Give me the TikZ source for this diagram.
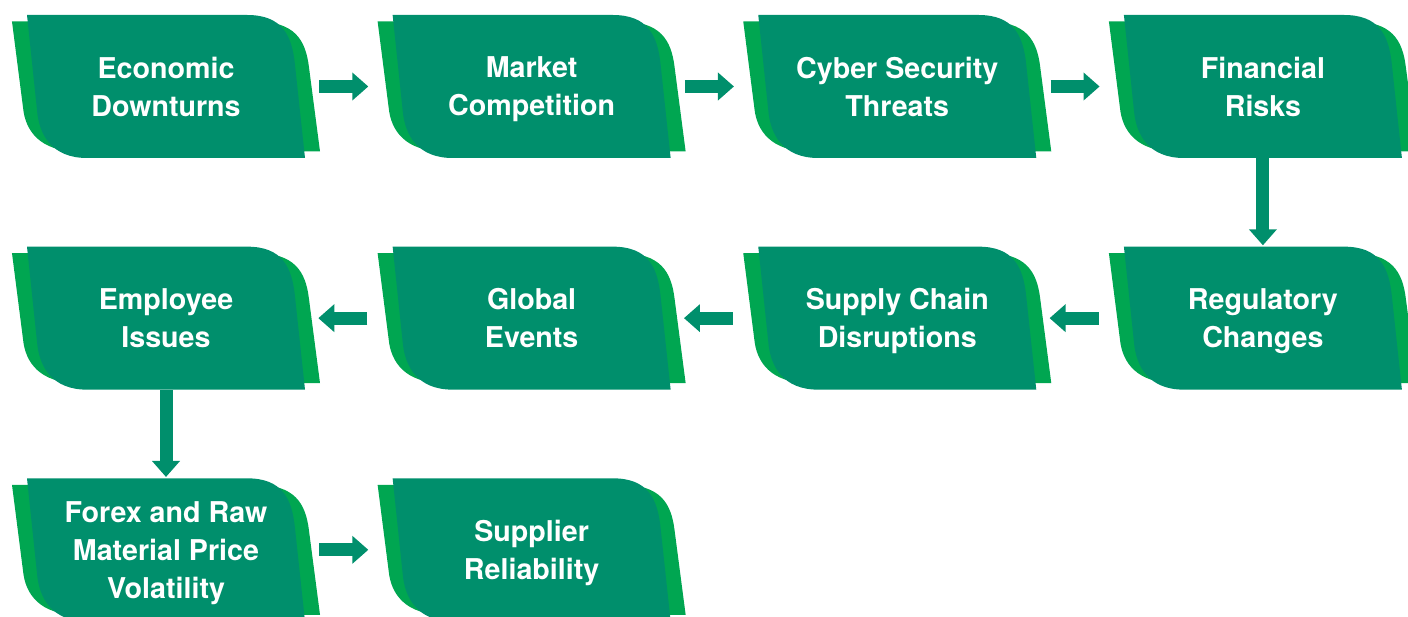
\documentclass[tikz,border=0pt]{standalone}
\usepackage{fontspec}
\setmainfont{TeX Gyre Heros}
\usetikzlibrary{positioning,arrows.meta,backgrounds}

\definecolor{cardfront}{RGB}{0,143,108}
\definecolor{cardback}{RGB}{0,166,81}

\begin{document}
\begin{tikzpicture}[x=0.02cm,y=-0.02cm,font=\fontsize{16.3}{21.6}\selectfont\bfseries]
\tikzset{
% the card behind every label: a light green back and a dark green front
pics/riskcard/.style={code={
\fill[cardback,xscale=1.108,yscale=0.909] (-139,-71.5) -- (81,-71.5) .. controls (116,-71.5) and (126,-51.5) .. (129,-21.5) -- (139,71.5) -- (-79,71.5) .. controls (-114,71.5) and (-127,48.5) .. (-129,23.5) -- cycle;
\fill[cardfront] (-139,-71.5) -- (81,-71.5) .. controls (116,-71.5) and (126,-51.5) .. (129,-21.5) -- (139,71.5) -- (-79,71.5) .. controls (-114,71.5) and (-127,48.5) .. (-129,23.5) -- cycle;
}},
riskbox/.style={minimum width=5.56cm,minimum height=2.86cm,inner sep=0,text=white,align=center,text depth=0pt},
flow/.style={draw=cardfront,line width=0.26cm,-{Triangle[width=0.54cm,length=0.32cm]}},
rflow/.style={flow,shorten <=0.28cm,shorten >=0.48cm},
lflow/.style={flow,shorten <=0.5cm,shorten >=0.26cm},
dflow/.style={flow,shorten >=0.02cm}
}
\useasboundingbox (0,0) rectangle (1408,617);

% first row, left to right
\node[riskbox] (econ) at (166,86.5) {Economic\\Downturns};
\node[riskbox,right=1.74cm of econ] (market) {Market\\Competition};
\node[riskbox,right=1.74cm of market] (cyber) {Cyber Security\\Threats};
\node[riskbox,right=1.74cm of cyber] (finance) {Financial\\Risks};
% second row, right to left
\node[riskbox,below=1.76cm of finance] (regul) {Regulatory\\Changes};
\node[riskbox,left=1.74cm of regul] (supply) {Supply Chain\\Disruptions};
\node[riskbox,left=1.74cm of supply] (global) {Global\\Events};
\node[riskbox,left=1.74cm of global] (staff) {Employee\\Issues};
% third row
\node[riskbox,below=1.76cm of staff] (forex) {Forex and Raw\\Material Price\\Volatility};
\node[riskbox,right=1.74cm of forex] (supplier) {Supplier\\Reliability};

% the cards
\begin{scope}[on background layer]
\foreach \n in {econ,market,cyber,finance,regul,supply,global,staff,forex,supplier}
\pic at (\n) {riskcard};
\end{scope}

% arrows
\draw[rflow] (econ) -- (market);
\draw[rflow] (market) -- (cyber);
\draw[rflow] (cyber) -- (finance);
\draw[dflow] (finance) -- (regul);
\draw[lflow] (regul) -- (supply);
\draw[lflow] (supply) -- (global);
\draw[lflow] (global) -- (staff);
\draw[dflow] (staff) -- (forex);
\draw[rflow] (forex) -- (supplier);
\end{tikzpicture}
\end{document}
